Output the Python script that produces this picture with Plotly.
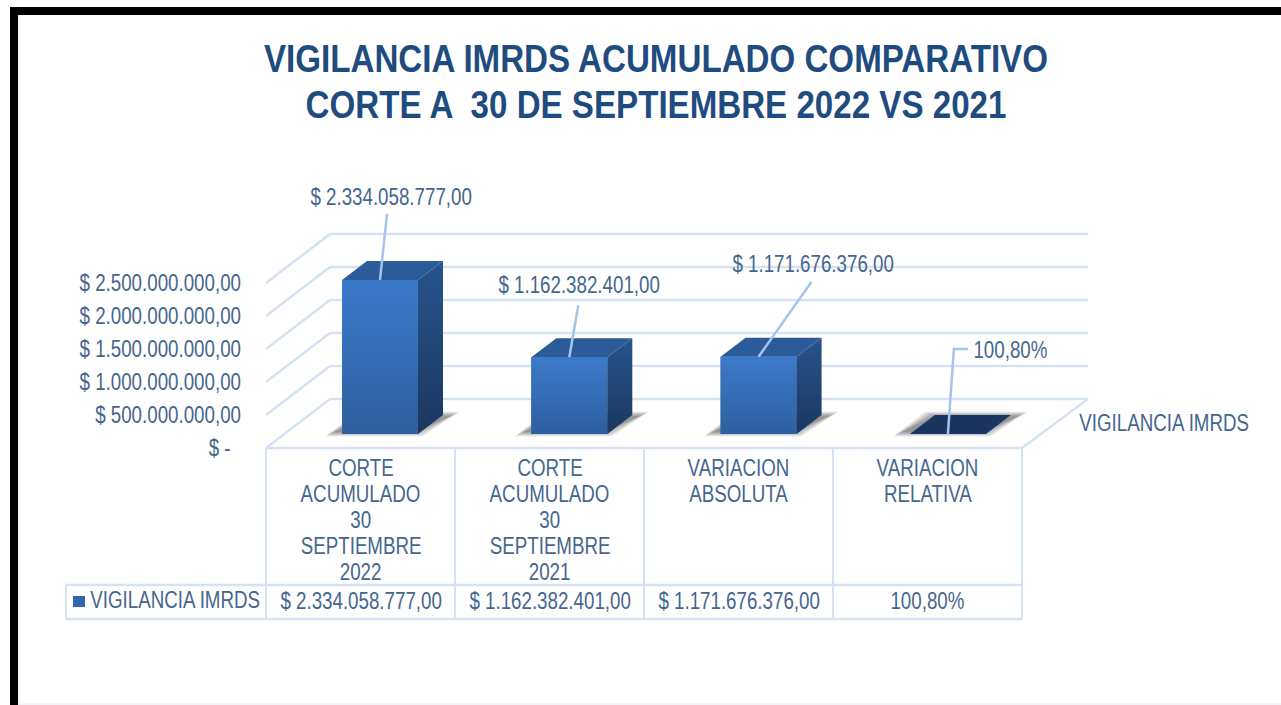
import plotly.graph_objects as go

# ---------- data ----------
categories = ["CORTE<br>ACUMULADO<br>30<br>SEPTIEMBRE<br>2022",
              "CORTE<br>ACUMULADO<br>30<br>SEPTIEMBRE<br>2021",
              "VARIACION<br>ABSOLUTA",
              "VARIACION<br>RELATIVA"]
series_name = "VIGILANCIA IMRDS"
values = [2334058777.00, 1162382401.00, 1171676376.00, 1.008]
value_labels = ["$ 2.334.058.777,00", "$ 1.162.382.401,00", "$ 1.171.676.376,00", "100,80%"]
tick_values = [0, 500000000, 1000000000, 1500000000, 2000000000, 2500000000]
tick_labels = ["$ -\u00a0\u00a0", "$ 500.000.000,00", "$ 1.000.000.000,00", "$ 1.500.000.000,00",
               "$ 2.000.000.000,00", "$ 2.500.000.000,00"]
title_text = "VIGILANCIA IMRDS ACUMULADO COMPARATIVO<br>CORTE A \u00a030 DE SEPTIEMBRE 2022 VS 2021"

# ---------- layout geometry ----------
W, H = 1281, 705
ML = 243
X0PX, XSTEP = 380.0, 189.3      # pixel of category 0, pixels per category
Y0PX, YSCALE = 448.0, 66e-9     # pixel of value 0 on the front plane, pixels per unit
xrange_ = [(ML - X0PX) / XSTEP, (W - X0PX) / XSTEP]
yrange_ = [(Y0PX - H) / YSCALE, Y0PX / YSCALE]
BAR_W = 76 / XSTEP
BASE = 14 / YSCALE              # bars stand 14 px behind the front floor edge
DX, DY = 25 / XSTEP, 19 / YSCALE  # 3D depth


def px(v):
    return (v - ML) / (W - ML)


def py(v):
    return 1 - v / H


def dxv(p):
    return p / XSTEP


def dyv(p):
    return p / YSCALE


TEXT = "#45668f"
GRID = "#d5e2f4"
LEAD = "#a6c4ea"
TITLE = "#1f4c7f"
FONT = "Liberation Sans"
FS = 23
NARROW = 0.815
TITLE_NARROW = 0.872
xs = list(range(len(values)))

shapes = []


def pline(x0, y0, x1, y1, color=GRID, width=2):
    shapes.append(dict(type="line", xref="paper", yref="paper", x0=px(x0), y0=py(y0), x1=px(x1), y1=py(y1),
                       line=dict(color=color, width=width), layer="below"))


# black frame
shapes.append(dict(type="rect", xref="paper", yref="paper", x0=px(10), x1=px(18), y0=py(H), y1=py(7),
                   fillcolor="#000", line_width=0, layer="below"))
shapes.append(dict(type="rect", xref="paper", yref="paper", x0=px(10), x1=px(W), y0=py(15), y1=py(7),
                   fillcolor="#000", line_width=0, layer="below"))
pline(19, 15, 19, H, "#dbe7f6", 1)
pline(19, 704, W, 704, "#e6eef9", 1)

# gridlines: left wall + back wall, from the axis scale
wall_dx = 64 / XSTEP
wall_dy = 49 / YSCALE
xl, xr = (266 - X0PX) / XSTEP, (1024 - X0PX) / XSTEP
for t in tick_values:
    shapes.append(dict(type="line", x0=xl, y0=t, x1=xl + wall_dx, y1=t + wall_dy,
                       line=dict(color=GRID, width=2.5), layer="below"))
    shapes.append(dict(type="line", x0=xl + wall_dx, y0=t + wall_dy, x1=xr + wall_dx, y1=t + wall_dy,
                       line=dict(color=GRID, width=2.5), layer="below"))
# floor right edge
shapes.append(dict(type="line", x0=(1022 - X0PX) / XSTEP, y0=0, x1=(1088 - X0PX) / XSTEP, y1=wall_dy,
                   line=dict(color=GRID, width=2.5), layer="below"))

# table grid
pline(266, 448, 1022, 448, width=2.5)
for xv in (266, 455, 644, 833, 1022):
    pline(xv, 448, xv, 619)
pline(66, 585, 1022, 585, width=2.5)
pline(66, 619, 1022, 619, width=2.5)
pline(66, 585, 66, 619)

# floor shadows (layered for a soft edge)
for i, v in zip(xs, values):
    x0, x1 = i - BAR_W / 2, i + BAR_W / 2
    for grow, op in ((3, 0.10), (1.5, 0.12), (0, 0.14), (-2, 0.16), (-4, 0.2), (-6, 0.22)):
        pts = [(x0 - dxv(14 + grow), BASE - dyv(1 + grow / 2)),
               (x1 + dxv(2 + grow), BASE - dyv(1 + grow / 2)),
               (x1 + dxv(39 + grow), BASE + dyv(21 + grow / 2)),
               (x0 + dxv(18 - grow), BASE + dyv(21 + grow / 2))]
        path = "M " + " L ".join(f"{a},{b}" for a, b in pts) + " Z"
        shapes.append(dict(type="path", path=path, fillcolor="#5f5f5f", opacity=op, line_width=0, layer="below"))

fig = go.Figure()

# front faces
fig.add_trace(go.Bar(x=xs, y=values, base=BASE, width=BAR_W, name=series_name,
                     marker=dict(color="#3468ae", line_width=0), showlegend=False, hoverinfo="skip"))

for i, v in zip(xs, values):
    x0, x1 = i - BAR_W / 2, i + BAR_W / 2
    top = BASE + v
    tall = v > 1e3
    if tall:
        # gradient over the front face
        fig.add_trace(go.Scatter(x=[x0, x1, x1, x0, x0], y=[BASE, BASE, top, top, BASE], mode="none", fill="toself",
                                 fillgradient=dict(type="vertical", colorscale=[[0, "#2e5f9f"], [1, "#3c7aca"]]),
                                 showlegend=False, hoverinfo="skip"))
        # side face
        fig.add_trace(go.Scatter(x=[x1, x1 + DX, x1 + DX, x1, x1], y=[BASE, BASE + DY, top + DY, top, BASE],
                                 mode="none", fill="toself",
                                 fillgradient=dict(type="vertical", colorscale=[[0, "#1a3860"], [1, "#27548c"]]),
                                 showlegend=False, hoverinfo="skip"))
    # top face
    fig.add_trace(go.Scatter(x=[x0, x1, x1 + DX, x0 + DX, x0], y=[top, top, top + DY, top + DY, top],
                             mode="none", fill="toself", fillcolor="#2b5c99" if tall else "#1a3660",
                             showlegend=False, hoverinfo="skip"))

# leader lines: from the top of each bar to its label
leaders = [[(0, 0), (7, 66)],
           [(0, 0), (9, 52)],
           [(0, 0), (53, 75)],
           [(0, 0), (6, 85), (20, 85)]]
for i, v, seg in zip(xs, values, leaders):
    top = BASE + v
    fig.add_trace(go.Scatter(x=[i + dxv(a) for a, _ in seg], y=[top + dyv(b) for _, b in seg], mode="lines",
                             line=dict(color=LEAD, width=2.5), showlegend=False, hoverinfo="skip"))

ann = []


def text(x, y, s, size=FS, color=TEXT, xanchor="center", yanchor="middle"):
    ann.append(dict(xref="paper", yref="paper", x=px(x), y=py(y), text=s, showarrow=False, xanchor=xanchor,
                    yanchor=yanchor, font=dict(size=size, color=color, family=FONT), align="center",
                    borderpad=0, borderwidth=0))


for (lx, ly), s in zip([(391, 197), (579, 285), (813, 264), (1010, 350)], value_labels):
    text(lx, ly, s)
text(1164, 423, series_name)

cell_centres = [360.5, 549.5, 738.5, 927.5]
for cx, c, s in zip(cell_centres, categories, value_labels):
    for k, line in enumerate(c.split("<br>")):
        text(cx, 468 + 26 * k, line)
    text(cx, 601, s)
text(175, 600, series_name)
shapes.append(dict(type="rect", xref="paper", yref="paper", x0=px(73), x1=px(85), y0=py(607), y1=py(596),
                   fillcolor="#3066ad", line_width=0))

fig.update_layout(
    width=W, height=H, autosize=False,
    margin=dict(l=ML, r=0, t=0, b=0, pad=0),
    paper_bgcolor="white", plot_bgcolor="rgba(0,0,0,0)",
    title=dict(text=title_text, x=656 / W, xanchor="center", y=1 - 72 / H, yanchor="middle",
               font=dict(family=FONT, size=38, color=TITLE, weight="bold")),
    barmode="overlay",
    xaxis=dict(range=xrange_, visible=False, fixedrange=True),
    yaxis=dict(range=yrange_, showgrid=False, zeroline=False, showline=False, ticks="", tickmode="array",
               tickvals=tick_values, ticktext=tick_labels, ticklabelstandoff=1,
               tickfont=dict(family=FONT, size=FS, color=TEXT), fixedrange=True),
    shapes=shapes, annotations=ann, showlegend=False,
)

# the reference text is condensed; no narrow face is installed, so squeeze the real text horizontally
post = """
document.body.style.margin='0';document.documentElement.style.overflow='hidden';
function squeeze(sel, s){document.querySelectorAll(sel).forEach(function(t){
  var x=parseFloat(t.getAttribute('x'))||0, tr=t.getAttribute('transform')||'';
  t.setAttribute('transform', tr+' translate('+x+',0) scale('+s+',1) translate('+(-x)+',0)');
});}
squeeze('.annotation-text', %s); squeeze('.ytick text', %s); squeeze('.gtitle', %s);
var l=document.querySelectorAll('.gtitle tspan.line');
if(l.length>1){l[1].setAttribute('y', parseFloat(l[1].getAttribute('y'))-3);}
""" % (NARROW, NARROW, TITLE_NARROW)
fig.write_html("out.html", config={"displayModeBar": False}, post_script=post)
